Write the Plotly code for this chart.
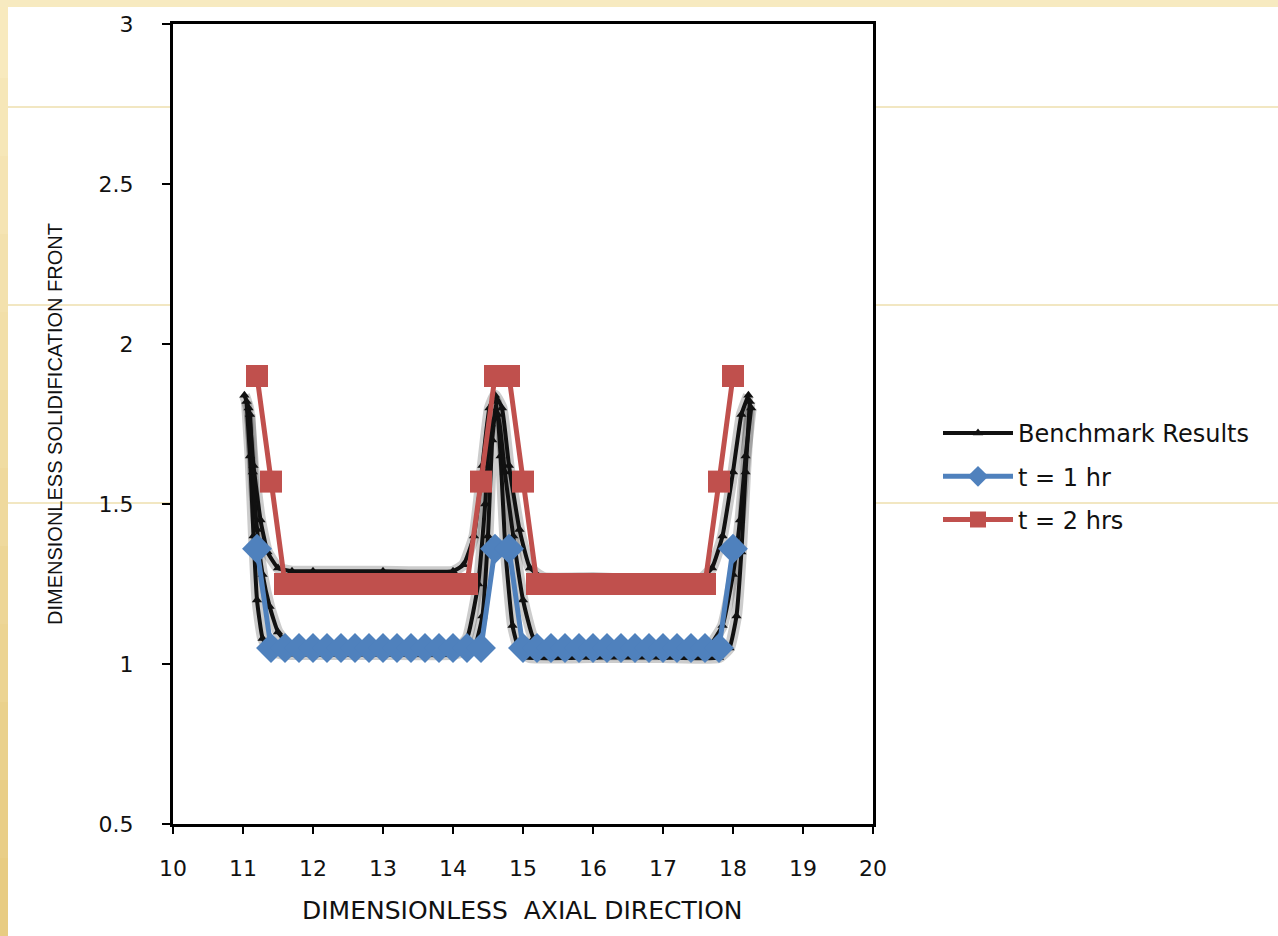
import plotly.graph_objects as go

# Benchmark curves (solidification-front profiles)
bench_x_a = [11.02, 11.08, 11.15, 11.25, 11.35, 11.5, 11.7, 12.0, 13.0, 14.0, 14.15, 14.3, 14.42,
             14.52, 14.6, 14.7, 14.8, 14.95, 15.1, 15.3, 16.0, 17.0, 17.5, 17.7, 17.85, 18.0, 18.12, 18.22]
bench_y_a = [1.84, 1.80, 1.62, 1.45, 1.35, 1.30, 1.29, 1.29, 1.29, 1.29, 1.31, 1.40, 1.62,
             1.80, 1.84, 1.80, 1.62, 1.42, 1.30, 1.27, 1.27, 1.26, 1.26, 1.30, 1.40, 1.60, 1.78, 1.84]
bench_x_b = [11.05, 11.1, 11.15, 11.2, 11.28, 11.4, 11.6, 12.0, 13.0, 14.0, 14.3, 14.42, 14.5,
             14.56, 14.62, 14.68, 14.75, 14.85, 14.95, 15.1, 16.0, 17.0, 17.8, 17.95, 18.05, 18.12, 18.18, 18.24]
bench_y_b = [1.82, 1.65, 1.40, 1.20, 1.08, 1.04, 1.03, 1.03, 1.03, 1.03, 1.05, 1.15, 1.40,
             1.70, 1.82, 1.65, 1.35, 1.12, 1.04, 1.02, 1.02, 1.02, 1.02, 1.05, 1.15, 1.35, 1.60, 1.82]
bench_x_c = [11.1, 11.14, 11.2, 11.28, 11.38, 11.5, 11.7, 12.0, 13.0, 14.0, 14.2, 14.36, 14.46,
             14.54, 14.64, 14.74, 14.86, 15.0, 15.15, 15.4, 16.0, 17.0, 17.6, 17.85, 18.0, 18.1, 18.18, 18.26]
bench_y_c = [1.78, 1.60, 1.42, 1.28, 1.18, 1.10, 1.05, 1.04, 1.04, 1.04, 1.08, 1.25, 1.50,
             1.75, 1.78, 1.60, 1.40, 1.20, 1.08, 1.04, 1.03, 1.03, 1.04, 1.12, 1.28, 1.45, 1.65, 1.80]

# t = 1 hr
t1_x = [11.2, 11.4, 11.6, 11.8, 12.0, 12.2, 12.4, 12.6, 12.8, 13.0, 13.2, 13.4, 13.6, 13.8, 14.0, 14.2, 14.4,
        14.6, 14.8, 15.0, 15.2, 15.4, 15.6, 15.8, 16.0, 16.2, 16.4, 16.6, 16.8, 17.0, 17.2, 17.4, 17.6, 17.8, 18.0]
t1_y = [1.36, 1.05, 1.05, 1.05, 1.05, 1.05, 1.05, 1.05, 1.05, 1.05, 1.05, 1.05, 1.05, 1.05, 1.05, 1.05, 1.05,
        1.36, 1.36, 1.05, 1.05, 1.05, 1.05, 1.05, 1.05, 1.05, 1.05, 1.05, 1.05, 1.05, 1.05, 1.05, 1.05, 1.05, 1.36]

# t = 2 hrs
t2_x = [11.2, 11.4, 11.6, 11.8, 12.0, 12.2, 12.4, 12.6, 12.8, 13.0, 13.2, 13.4, 13.6, 13.8, 14.0, 14.2, 14.4,
        14.6, 14.8, 15.0, 15.2, 15.4, 15.6, 15.8, 16.0, 16.2, 16.4, 16.6, 16.8, 17.0, 17.2, 17.4, 17.6, 17.8, 18.0]
t2_y = [1.90, 1.57, 1.25, 1.25, 1.25, 1.25, 1.25, 1.25, 1.25, 1.25, 1.25, 1.25, 1.25, 1.25, 1.25, 1.25, 1.57,
        1.90, 1.90, 1.57, 1.25, 1.25, 1.25, 1.25, 1.25, 1.25, 1.25, 1.25, 1.25, 1.25, 1.25, 1.25, 1.25, 1.57, 1.90]

x_ticks = [10, 11, 12, 13, 14, 15, 16, 17, 18, 19, 20]
y_ticks = [0.5, 1, 1.5, 2, 2.5, 3]
y_tick_text = ["0.5", "1", "1.5", "2", "2.5", "3"]

W, H = 1278, 936
ML, MR, MT, MB = 173, 405, 24, 112
PW, PH = W - ML - MR, H - MT - MB


def px(xp):
    return (xp - ML) / PW


def py(yp):
    return (H - MB - yp) / PH


fig = go.Figure()

bench = [(bench_x_a, bench_y_a), (bench_x_b, bench_y_b), (bench_x_c, bench_y_c)]

# soft halo under the benchmark lines
for bx, by in bench:
    fig.add_trace(go.Scatter(x=bx, y=by, mode="lines", showlegend=False, hoverinfo="skip",
                             line=dict(color="rgba(0,0,0,0.2)", width=11, shape="spline", smoothing=0.4)))

for i, (bx, by) in enumerate(bench):
    fig.add_trace(go.Scatter(
        x=bx, y=by, mode="lines+markers", name="Benchmark Results",
        legendgroup="bench", showlegend=(i == 0),
        line=dict(color="#111111", width=4, shape="spline", smoothing=0.4),
        marker=dict(symbol="triangle-up", size=9, color="#111111"),
    ))

fig.add_trace(go.Scatter(
    x=t1_x, y=t1_y, mode="lines+markers", name="t = 1 hr", legendgroup="t1",
    line=dict(color="#4F81BD", width=5),
    marker=dict(symbol="diamond", size=23, color="#4F81BD"),
))
fig.add_trace(go.Scatter(
    x=t2_x, y=t2_y, mode="lines+markers", name="t = 2 hrs", legendgroup="t2",
    line=dict(color="#C0504D", width=5),
    marker=dict(symbol="square", size=22, color="#C0504D"),
))

shapes = []
# cream border strips of the page
n = 12
for k in range(n):
    f = k / (n - 1)
    r = int(248 - 16 * f)
    g = int(234 - 30 * f)
    b = int(190 - 60 * f)
    shapes.append(dict(type="rect", xref="paper", yref="paper", layer="below",
                       x0=px(0), x1=px(8), y0=py(H * k / n), y1=py(H * (k + 1) / n),
                       fillcolor=f"rgb({r},{g},{b})", line=dict(width=0)))
shapes.append(dict(type="rect", xref="paper", yref="paper", layer="below",
                   x0=px(0), x1=px(W), y0=py(0), y1=py(7),
                   fillcolor="#F7EAC0", line=dict(width=0)))
# faint rule lines of the page
for yy in [107, 305, 503]:
    for x0, x1 in [(8, 170), (876, W)]:
        shapes.append(dict(type="line", xref="paper", yref="paper", layer="below",
                           x0=px(x0), x1=px(x1), y0=py(yy), y1=py(yy),
                           line=dict(color="#EEDFAE", width=1.5)))

annotations = [
    dict(text="DIMENSIONLESS  AXIAL DIRECTION", xref="paper", yref="paper",
         x=px(522), y=py(911), showarrow=False, xanchor="center", yanchor="middle",
         font=dict(family="DejaVu Sans", size=25, color="#111111")),
    dict(text="DIMENSIONLESS SOLIDIFICATION FRONT", xref="paper", yref="paper",
         x=px(55), y=py(424), showarrow=False, textangle=-90, xanchor="center", yanchor="middle",
         font=dict(family="Liberation Sans", size=20, color="#111111")),
]

fig.update_layout(
    width=W, height=H,
    margin=dict(l=ML, r=MR, t=MT, b=MB),
    paper_bgcolor="white", plot_bgcolor="white",
    shapes=shapes, annotations=annotations,
    showlegend=True,
    legend=dict(x=px(938), y=py(411), xanchor="left", yanchor="top",
                font=dict(family="DejaVu Sans", size=24, color="#111111"),
                itemwidth=70, tracegroupgap=9, bgcolor="rgba(0,0,0,0)"),
    xaxis=dict(range=[10, 20], tickvals=x_ticks, ticktext=[str(v) for v in x_ticks],
               showgrid=False, zeroline=False, showline=True, linecolor="black", linewidth=3,
               mirror=True, ticks="outside", ticklen=7, tickwidth=2, tickcolor="black",
               ticklabelstandoff=16,
               tickfont=dict(family="DejaVu Sans", size=22, color="#111111")),
    yaxis=dict(range=[0.5, 3], tickvals=y_ticks, ticktext=y_tick_text,
               showgrid=False, zeroline=False, showline=True, linecolor="black", linewidth=3,
               mirror=True, ticks="outside", ticklen=8, tickwidth=2, tickcolor="black",
               ticklabelstandoff=24,
               tickfont=dict(family="DejaVu Sans", size=22, color="#111111")),
)

fig.write_html("out.html")
